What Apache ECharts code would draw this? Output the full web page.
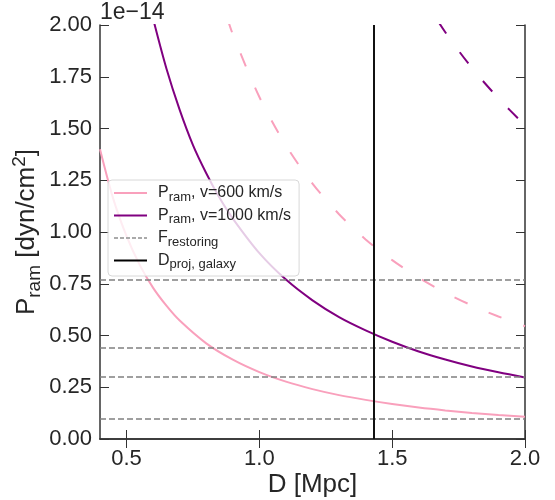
<!DOCTYPE html>
<html><head><meta charset="utf-8">
<script src="https://cdn.jsdelivr.net/npm/echarts@6/dist/echarts.min.js"></script>
<style>html,body{margin:0;padding:0;background:#fff}#c{width:555px;height:500px}</style>
</head><body><div id="c"></div>
<script>
// values in units of 1e-14 dyn/cm^2
const xTicks = [0.5, 1.0, 1.5, 2.0];
const yTicks = [0, 0.25, 0.5, 0.75, 1.0, 1.25, 1.5, 1.75, 2.0];

const dSlow = [0.4, 0.45, 0.5, 0.55, 0.6, 0.65, 0.7, 0.8, 0.9, 1.0, 1.1, 1.2, 1.3, 1.4, 1.5, 1.6, 1.7, 1.8, 1.9, 2.0];
const pSlow = [1.40, 1.16, 0.98, 0.84, 0.73, 0.644, 0.572, 0.462, 0.383, 0.323, 0.277, 0.241, 0.212, 0.189, 0.169, 0.152, 0.138, 0.126, 0.116, 0.107];

const dFast = [0.6, 0.65, 0.7, 0.75, 0.8, 0.85, 0.9, 1.0, 1.1, 1.2, 1.3, 1.4, 1.5, 1.6, 1.7, 1.8, 1.9, 2.0];
const pFast = [2.03, 1.79, 1.59, 1.42, 1.284, 1.165, 1.065, 0.898, 0.770, 0.670, 0.589, 0.525, 0.470, 0.423, 0.384, 0.350, 0.322, 0.297];

const dSlowAlt = [0.88, 0.9, 1.0, 1.1, 1.2, 1.3, 1.4, 1.5, 1.6, 1.7, 1.8, 1.9, 2.0];
const pSlowAlt = [2.03, 1.955, 1.652, 1.418, 1.234, 1.086, 0.964, 0.864, 0.779, 0.707, 0.645, 0.592, 0.545];

const dFastAlt = [1.6, 1.7, 1.8, 1.9, 2.0];
const pFastAlt = [2.166, 1.965, 1.793, 1.646, 1.515];

const fRestoring = [0.105, 0.296, 0.436, 0.773];
const dProjGalaxy = 1.43;

const names = ['slow', 'fast', 'restoring', 'dproj'];
const labels = {
  slow: '{g|}{n|P}{s|ram}{n|, v=600 km/s}',
  fast: '{g|}{n|P}{s|ram}{n|, v=1000 km/s}',
  restoring: '{g|}{n|F}{s|restoring}',
  dproj: '{g|}{n|D}{s|proj, galaxy}'
};
const pink = '#f9a0bc', purple = '#800080';
const pairs = (xs, ys) => xs.map((x, i) => [x, ys[i]]);
const font = 'Liberation Sans, Arial, sans-serif';
const axisCol = '#333';
const txt = '#262626';

const chart = echarts.init(document.getElementById('c'), null, {renderer: 'canvas'});
chart.setOption({
  animation: false,
  textStyle: {fontFamily: font},
  grid: {left: 100, right: 30, top: 25, bottom: 61, containLabel: false, outerBoundsMode: 'none'},
  xAxis: [{
    type: 'value', min: 0.4, max: 2.0, position: 'bottom',
    axisLine: {lineStyle: {color: axisCol, width: 1.5}},
    axisTick: {inside: true, length: 9, customValues: xTicks, lineStyle: {color: axisCol, width: 1}},
    axisLabel: {customValues: xTicks, fontSize: 22, color: txt, margin: 9, fontFamily: font,
      formatter: v => v.toFixed(1)},
    splitLine: {show: false},
    name: 'D [Mpc]', nameLocation: 'middle', nameGap: 33, nameMoveOverlap: false,
    nameTextStyle: {fontSize: 26, color: txt, fontFamily: font}
  }, {
    type: 'value', min: 0.4, max: 2.0, position: 'top',
    axisLine: {lineStyle: {color: axisCol, width: 1.5}},
    axisTick: {inside: true, length: 9, customValues: xTicks, lineStyle: {color: axisCol, width: 1}},
    axisLabel: {show: false}, splitLine: {show: false}
  }],
  yAxis: [{
    type: 'value', min: 0, max: 2.0, interval: 0.25, position: 'left',
    axisLine: {show: true, lineStyle: {color: axisCol, width: 1.5}},
    axisTick: {show: true, inside: true, length: 9, lineStyle: {color: axisCol, width: 1}},
    axisLabel: {fontSize: 22, color: txt, margin: 8, fontFamily: font, formatter: v => v.toFixed(2)},
    splitLine: {show: false},
    name: '{n|P}{s|ram}{n| [dyn/cm}{p|2}{n|]}', nameLocation: 'middle', nameGap: 56, nameRotate: 90,
    nameMoveOverlap: false,
    nameTextStyle: {
      color: txt, fontFamily: font,
      rich: {
        n: {fontSize: 26, lineHeight: 34, verticalAlign: 'middle', color: txt, fontFamily: font},
        s: {fontSize: 19, lineHeight: 15, verticalAlign: 'bottom', color: txt, fontFamily: font},
        p: {fontSize: 19, lineHeight: 15, verticalAlign: 'top', color: txt, fontFamily: font}
      }
    }
  }, {
    type: 'value', min: 0, max: 2.0, interval: 0.25, position: 'right',
    axisLine: {show: true, lineStyle: {color: axisCol, width: 1.5}},
    axisTick: {show: true, inside: true, length: 9, lineStyle: {color: axisCol, width: 1}},
    axisLabel: {show: false}, splitLine: {show: false}
  }],
  legend: {
    orient: 'vertical', left: 108, top: 180, data: names,
    itemStyle: {opacity: 0},
    backgroundColor: 'rgba(255,255,255,0.8)', borderColor: '#d8d8d8', borderWidth: 1, borderRadius: 4,
    padding: [5, 8, 5, 5], itemGap: 4, itemWidth: 33, itemHeight: 20,
    formatter: n => labels[n],
    textStyle: {
      fontFamily: font,
      rich: {
        g: {width: 6},
        n: {fontSize: 16, lineHeight: 21, verticalAlign: 'middle', color: txt, fontFamily: font},
        s: {fontSize: 13, lineHeight: 10, verticalAlign: 'bottom', color: txt, fontFamily: font}
      }
    }
  },
  graphic: [{
    type: 'text', left: 100, top: 1,
    style: {text: '1e\u221214', fontSize: 23, fill: txt, fontFamily: font}
  }],
  series: [
    {name: 'slow', type: 'line', data: pairs(dSlow, pSlow), smooth: 0.3, symbol: 'none',
      lineStyle: {color: pink, width: 2}, itemStyle: {color: pink}, z: 3},
    {name: 'fast', type: 'line', data: pairs(dFast, pFast), smooth: 0.3, symbol: 'none',
      lineStyle: {color: purple, width: 2}, itemStyle: {color: purple}, z: 3},
    {name: 'slowAlt', type: 'line', data: pairs(dSlowAlt, pSlowAlt), smooth: 0.3, symbol: 'none',
      lineStyle: {color: pink, width: 2, type: [14, 23]}, itemStyle: {color: pink}, z: 3},
    {name: 'fastAlt', type: 'line', data: pairs(dFastAlt, pFastAlt), smooth: 0.3, symbol: 'none',
      lineStyle: {color: purple, width: 2, type: [14, 23]}, itemStyle: {color: purple}, z: 3},
    {name: 'restoring', type: 'line', data: [], symbol: 'none',
      lineStyle: {color: '#aaaaaa', width: 1, type: [4, 2]}, itemStyle: {color: '#aaaaaa'},
      markLine: {silent: true, symbol: 'none', label: {show: false},
        lineStyle: {color: '#808080', width: 1.5, type: [6, 3]},
        data: fRestoring.map(v => ({yAxis: v}))}},
    {name: 'dproj', type: 'line', data: [], symbol: 'none',
      lineStyle: {color: '#000', width: 2}, itemStyle: {color: '#000'},
      markLine: {silent: true, symbol: 'none', label: {show: false},
        lineStyle: {color: '#111', width: 2, type: 'solid'},
        data: [{xAxis: dProjGalaxy}]}}
  ]
});
</script></body></html>
